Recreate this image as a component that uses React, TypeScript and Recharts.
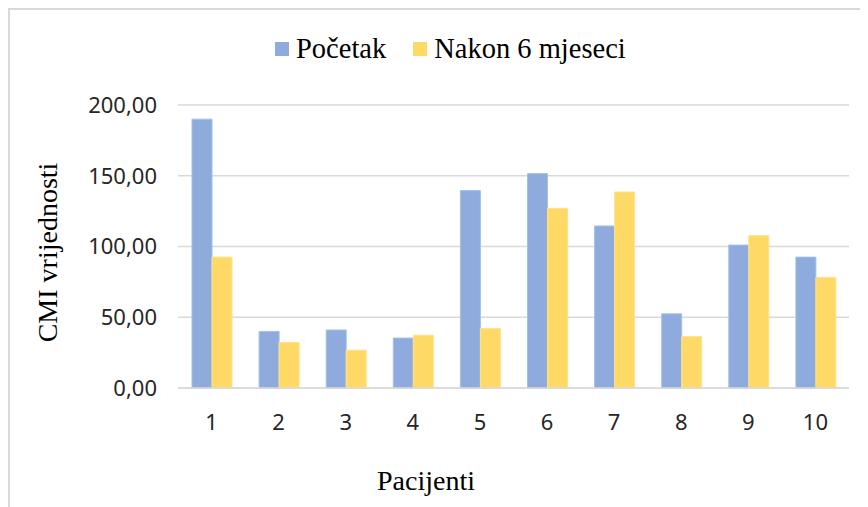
import React from "react";
import {
  BarChart,
  Bar,
  XAxis,
  YAxis,
  CartesianGrid,
  Legend,
} from "recharts";

// patients on the x axis
const patients = ["1", "2", "3", "4", "5", "6", "7", "8", "9", "10"];
// CMI at the start and after 6 months
const pocetak = [190, 40, 41, 35.3, 139.5, 151.5, 114.5, 52.4, 101, 92.5];
const nakon6 = [92.5, 32.2, 26.7, 37.3, 42, 127, 138.5, 36.3, 107.7, 78.2];
const yTicks = [0, 50, 100, 150, 200];

const series = [
  { key: "pocetak", name: "Početak", fill: "#8FAADC", stroke: "#9DC3E6" },
  { key: "nakon6", name: "Nakon 6 mjeseci", fill: "#FFD966", stroke: "#FFE38A" },
];

const data = patients.map((p, i) => ({
  patient: p,
  pocetak: pocetak[i],
  nakon6: nakon6[i],
}));

const W = 858;
const H = 497;
const serif = "'Liberation Serif', 'Times New Roman', serif";
const sans = "'Noto Sans', 'Open Sans', sans-serif";

const fmt = (v: number) => v.toFixed(2).replace(".", ",");

function LegendBox() {
  return (
    <div
      style={{
        display: "flex",
        alignItems: "center",
        height: 30,
        paddingLeft: 265,
        fontFamily: serif,
        fontSize: 28.5,
        color: "#000",
      }}
    >
      {series.map((s, i) => (
        <div
          key={s.key}
          style={{ display: "flex", alignItems: "center", marginRight: i === 0 ? 27 : 0 }}
        >
          <span
            style={{
              display: "inline-block",
              width: 14,
              height: 14,
              background: s.fill,
              marginRight: 7,
            }}
          />
          <span style={{ lineHeight: "30px" }}>{s.name}</span>
        </div>
      ))}
    </div>
  );
}

export default function App() {
  return (
    <div
      style={{
        width: 866,
        height: 505,
        borderTop: "2px solid #d9d9d9",
        borderLeft: "2px solid #d9d9d9",
        background: "#fff",
        overflow: "hidden",
      }}
    >
      <BarChart
        width={W}
        height={H}
        data={data}
        margin={{ top: 65, right: 19, bottom: 89, left: 78 }}
        barSize={20}
        barGap={0}
      >
        <CartesianGrid vertical={false} stroke="#d9d9d9" strokeWidth={1.5} />
        <XAxis
          dataKey="patient"
          height={30}
          tickLine={false}
          axisLine={{ stroke: "#d9d9d9", strokeWidth: 1.5 }}
          tickMargin={20}
          tick={{ fontFamily: sans, fontSize: 22, fill: "#262626" }}
          label={{
            content: () => (
              <text
                x={W / 2 - 13}
                y={480}
                textAnchor="middle"
                fontFamily={serif}
                fontSize={28}
                fill="#000"
              >
                Pacijenti
              </text>
            ),
          }}
        />
        <YAxis
          width={90}
          domain={[0, 200]}
          ticks={yTicks}
          tickFormatter={fmt}
          axisLine={false}
          tickLine={false}
          tickMargin={15}
          tick={{ fontFamily: sans, fontSize: 22, fill: "#262626" }}
          label={{
            content: (props: any) => {
              const vb = props.viewBox || { y: 95, height: 283 };
              const cy = vb.y + vb.height / 2 + 6;
              return (
                <text
                  x={47}
                  y={cy}
                  transform={`rotate(-90, 47, ${cy})`}
                  textAnchor="middle"
                  fontFamily={serif}
                  fontSize={28}
                  fill="#000"
                >
                  CMI vrijednosti
                </text>
              );
            },
          }}
        />
        <Legend
          verticalAlign="top"
          content={() => <LegendBox />}
          wrapperStyle={{ top: 24, left: 0, width: W }}
        />
        {series.map((s) => (
          <Bar
            key={s.key}
            dataKey={s.key}
            name={s.name}
            fill={s.fill}
            stroke={s.stroke}
            strokeWidth={1}
            isAnimationActive={false}
          />
        ))}
      </BarChart>
    </div>
  );
}
